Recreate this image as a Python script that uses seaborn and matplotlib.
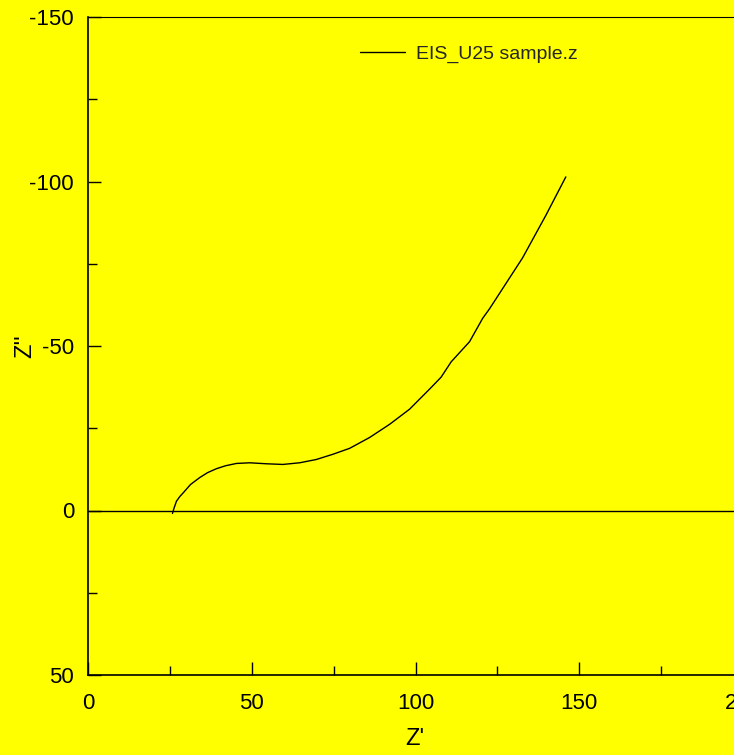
import matplotlib
matplotlib.use("Agg")
import matplotlib.pyplot as plt
from matplotlib.ticker import MultipleLocator
import seaborn as sns
import pandas as pd

# Data (Nyquist plot)
z_real = [25.8, 26.2, 27.0, 28.0, 29.1, 31.3, 34.1, 36.5, 39.2, 42.0, 45.3, 49.4, 54.5,
          59.5, 64.6, 69.7, 74.8, 79.9, 86.0, 92.1, 98.2, 104.3, 107.8, 110.9, 116.5,
          120.5, 122.6, 132.7, 139.8, 145.9]
z_imag = [0.9, -0.5, -2.8, -4.2, -5.4, -7.9, -10.0, -11.5, -12.7, -13.6, -14.3, -14.5, -14.2,
          -14.0, -14.5, -15.5, -17.1, -18.9, -22.2, -26.2, -30.8, -36.9, -40.5, -45.2, -51.3,
          -58.4, -61.3, -76.8, -89.7, -101.4]
series_label = "EIS_U25 sample.z"
x_label = "Z'"
y_label = "Z''"

df = pd.DataFrame({"zr": z_real, "zi": z_imag})

sns.set_theme(style="white")
plt.rcParams["font.family"] = ["Liberation Sans", "DejaVu Sans"]
plt.rcParams["axes.unicode_minus"] = False

fig = plt.figure(figsize=(7.34, 7.55), dpi=100)
fig.patch.set_facecolor("#FFFF00")
ax = fig.add_axes([88 / 734, 80 / 755, 655 / 734, 658 / 755])
ax.set_facecolor("#FFFF00")

ax.axhline(0, color="black", lw=1.0, zorder=1)
sns.lineplot(data=df, x="zr", y="zi", sort=False, estimator=None, color="black",
             lw=1.0, label=series_label, ax=ax)

ax.set_xlim(0, 200)
ax.set_ylim(50, -150)
ax.xaxis.set_major_locator(MultipleLocator(50))
ax.xaxis.set_minor_locator(MultipleLocator(25))
ax.yaxis.set_major_locator(MultipleLocator(50))
ax.yaxis.set_minor_locator(MultipleLocator(25))
ax.tick_params(which="both", direction="in", color="black", width=1.0,
               bottom=True, left=True, top=False, right=False,
               labelsize=16, labelcolor="black")
ax.tick_params(which="major", length=9.5)
ax.tick_params(which="minor", length=6.5)
ax.tick_params(axis="x", pad=13)
ax.tick_params(axis="y", pad=10)

for side in ["left", "bottom", "top", "right"]:
    ax.spines[side].set_visible(True)
    ax.spines[side].set_color("black")
    ax.spines[side].set_linewidth(1.2)
ax.spines["top"].set_linewidth(0.8)

ax.set_xlabel(x_label, fontsize=17, color="black")
ax.set_ylabel(y_label, fontsize=17, color="black", rotation=90, va="center", ha="center")
ax.xaxis.set_label_coords((415 - 88) / 655, -(728 - 675) / 658)
ax.yaxis.set_label_coords(-(88 - 25) / 655, (675 - 346) / 658)

ax.legend(loc="center left", bbox_to_anchor=(0.415, 0.944), frameon=False,
          fontsize=14, handlelength=2.3, handletextpad=0.6, borderpad=0,
          borderaxespad=0)

fig.savefig("out.png", dpi=100, facecolor=fig.get_facecolor())
